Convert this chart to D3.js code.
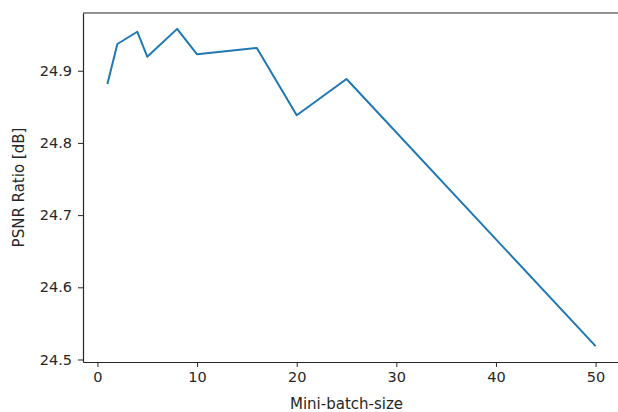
<!DOCTYPE html>
<html>
<head>
<meta charset="utf-8">
<script src="https://cdn.jsdelivr.net/npm/d3@7"></script>
<style>
  body { margin: 0; background: #fff; }
  text { font-family: "DejaVu Sans", sans-serif; fill: #262626; }
</style>
</head>
<body>
<script>
// mini-batch sizes and the PSNR measured for each
const batchSizes = [1, 2, 4, 5, 8, 10, 16, 20, 25, 50];
const psnr = [24.8815, 24.937, 24.954, 24.9195, 24.958, 24.9228, 24.9316, 24.8384, 24.8885, 24.5185];
const xTicks = [0, 10, 20, 30, 40, 50];
const yTicks = [24.5, 24.6, 24.7, 24.8, 24.9];

const width = 618, height = 412;
const margin = { top: 13, right: -2, bottom: 50, left: 83 };
const innerW = width - margin.left - margin.right,
    innerH = height - margin.top - margin.bottom;

const svg = d3.select("body").append("svg")
    .attr("width", width)
    .attr("height", height);

const g = svg.append("g")
    .attr("transform", "translate(" + margin.left + "," + margin.top + ")");

// matplotlib-style 5% padding around the data
const xExt = d3.extent(batchSizes), xPad = 0.05 * (xExt[1] - xExt[0]);
const yExt = d3.extent(psnr), yPad = 0.05 * (yExt[1] - yExt[0]);

const x = d3.scaleLinear()
    .domain([xExt[0] - xPad, xExt[1] + xPad])
    .range([0, innerW]);
const y = d3.scaleLinear()
    .domain([yExt[0] - yPad, yExt[1] + yPad])
    .range([innerH, 0]);

const xAxis = g.append("g")
    .attr("transform", "translate(0," + innerH + ")")
    .call(d3.axisBottom(x).tickValues(xTicks).tickFormat(d3.format("d")).tickSize(5).tickPadding(5).tickSizeOuter(0));
const yAxis = g.append("g")
    .call(d3.axisLeft(y).tickValues(yTicks).tickFormat(d3.format(".1f")).tickSize(5).tickPadding(6).tickSizeOuter(0));

[xAxis, yAxis].forEach(a => {
    a.selectAll("text").style("font-size", "14.5px").attr("fill", "#262626");
    a.selectAll("line").attr("stroke", "#262626").attr("stroke-width", 1);
    a.select(".domain").attr("stroke", "#262626").attr("stroke-width", 1.2);
});

// top spine
g.append("line")
    .attr("x1", 0).attr("x2", innerW)
    .attr("y1", 0).attr("y2", 0)
    .attr("stroke", "#262626").attr("stroke-width", 1.2);

const line = d3.line()
    .x((d, i) => x(batchSizes[i]))
    .y(d => y(d));

g.append("path")
    .datum(psnr)
    .attr("fill", "none")
    .attr("stroke", "#1f77b4")
    .attr("stroke-width", 2)
    .attr("stroke-linejoin", "round")
    .attr("d", line);

svg.append("text")
    .attr("x", margin.left + x(25))
    .attr("y", 409)
    .style("text-anchor", "middle")
    .style("font-size", "15px")
    .text("Mini-batch-size");

svg.append("text")
    .attr("transform", "rotate(-90)")
    .attr("x", -(margin.top + innerH / 2))
    .attr("y", 24)
    .style("text-anchor", "middle")
    .style("font-size", "15px")
    .text("PSNR Ratio [dB]");
</script>
</body>
</html>
